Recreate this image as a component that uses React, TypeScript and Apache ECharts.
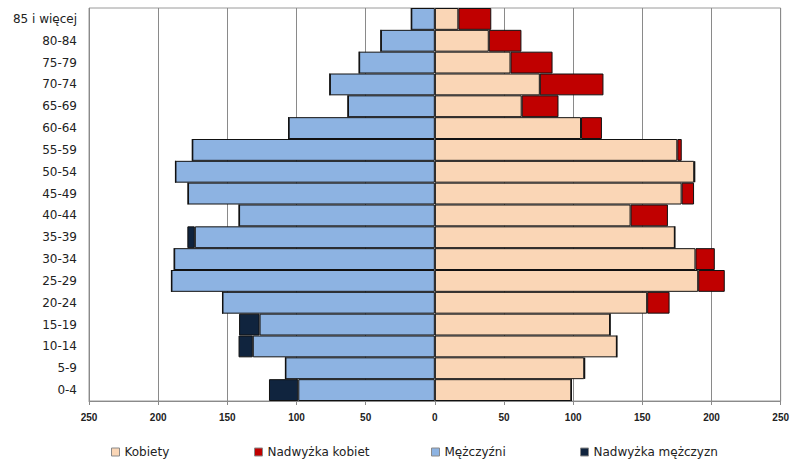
import React, { useEffect, useRef } from "react";
import * as echarts from "echarts";

const categories = [
  "0-4", "5-9", "10-14", "15-19", "20-24", "25-29", "30-34", "35-39", "40-44",
  "45-49", "50-54", "55-59", "60-64", "65-69", "70-74", "75-79", "80-84", "85 i więcej",
];
const kobiety = [98.7, 108, 131.6, 126.7, 153.5, 190.4, 188.4, 173.5, 141.5, 178.4, 187.5, 175.3, 105.7, 62.8, 75.9, 54.7, 39, 17];
const nadwyzkaKobiet = [0, 0.6, 0, 0, 16.2, 19.2, 14, 0, 27, 9, 0.7, 3.2, 15.1, 26.6, 46, 30.4, 23.6, 23.8];
const mezczyzni = [98.7, 108, 131.6, 126.7, 153.5, 190.4, 188.4, 173.5, 141.5, 178.4, 187.5, 175.3, 105.7, 62.8, 75.9, 54.7, 39, 17];
const nadwyzkaMezczyzn = [21.2, 0, 10.3, 14.8, 0, 0, 0, 5.4, 0, 0, 0, 0, 0, 0, 0, 0, 0, 0];
const xTicks = { min: -250, max: 250, interval: 50 };

const FONT = "DejaVu Sans";

export default function App() {
  const ref = useRef<HTMLDivElement>(null);
  useEffect(() => {
    if (!ref.current) return;
    const chart = echarts.init(ref.current, undefined, { renderer: "svg" });
    const border = { borderColor: "#111", borderWidth: 1 };
    const legendBase = {
      orient: "horizontal" as const,
      top: 446,
      padding: 0,
      itemWidth: 8,
      itemHeight: 8,
      icon: "rect",
      itemStyle: { borderColor: "#8a8a8a", borderWidth: 1 },
      textStyle: { fontFamily: FONT, fontSize: 12, color: "#222" },
    };
    chart.setOption({
      animation: false,
      backgroundColor: "#fff",
      grid: {
        left: 89,
        right: 9,
        top: 8,
        bottom: 59,
        show: true,
        borderColor: "#9a9a9a",
        borderWidth: 1,
      },
      legend: [
        { ...legendBase, left: 111, data: ["Kobiety"] },
        { ...legendBase, left: 254, data: ["Nadwyżka kobiet"] },
        { ...legendBase, left: 431, data: ["Mężczyźni"] },
        { ...legendBase, left: 580, data: ["Nadwyżka mężczyzn"] },
      ],
      xAxis: {
        type: "value",
        min: xTicks.min,
        max: xTicks.max,
        interval: xTicks.interval,
        axisLine: { show: true, lineStyle: { color: "#8a8a8a", width: 1 } },
        axisTick: { show: true, length: 4, lineStyle: { color: "#8a8a8a" } },
        splitLine: { show: true, lineStyle: { color: "#8a8a8a", width: 1 } },
        axisLabel: {
          formatter: (v: number) => String(Math.abs(v)),
          fontFamily: "Liberation Sans",
          fontSize: 10,
          fontWeight: "bold",
          color: "#222",
          margin: 11,
        },
      },
      yAxis: {
        type: "category",
        data: categories,
        axisLine: { show: false },
        axisTick: { show: false },
        axisLabel: { fontFamily: FONT, fontSize: 12, color: "#222", margin: 12 },
      },
      series: [
        {
          name: "Kobiety",
          type: "bar",
          stack: "total",
          barCategoryGap: 0,
          data: kobiety,
          itemStyle: { color: "#FAD6B6", ...border },
        },
        {
          name: "Nadwyżka kobiet",
          type: "bar",
          stack: "total",
          barCategoryGap: 0,
          data: nadwyzkaKobiet,
          itemStyle: { color: "#C00000", ...border },
        },
        {
          name: "Mężczyźni",
          type: "bar",
          stack: "total",
          barCategoryGap: 0,
          data: mezczyzni.map((v) => -v),
          itemStyle: { color: "#8DB3E2", ...border },
        },
        {
          name: "Nadwyżka mężczyzn",
          type: "bar",
          stack: "total",
          barCategoryGap: 0,
          data: nadwyzkaMezczyzn.map((v) => -v),
          itemStyle: { color: "#10243E", ...border },
        },
      ],
    });
    return () => chart.dispose();
  }, []);
  return (
    <div
      ref={ref}
      style={{ position: "fixed", left: 0, top: 0, width: 792, height: 460 }}
    />
  );
}
